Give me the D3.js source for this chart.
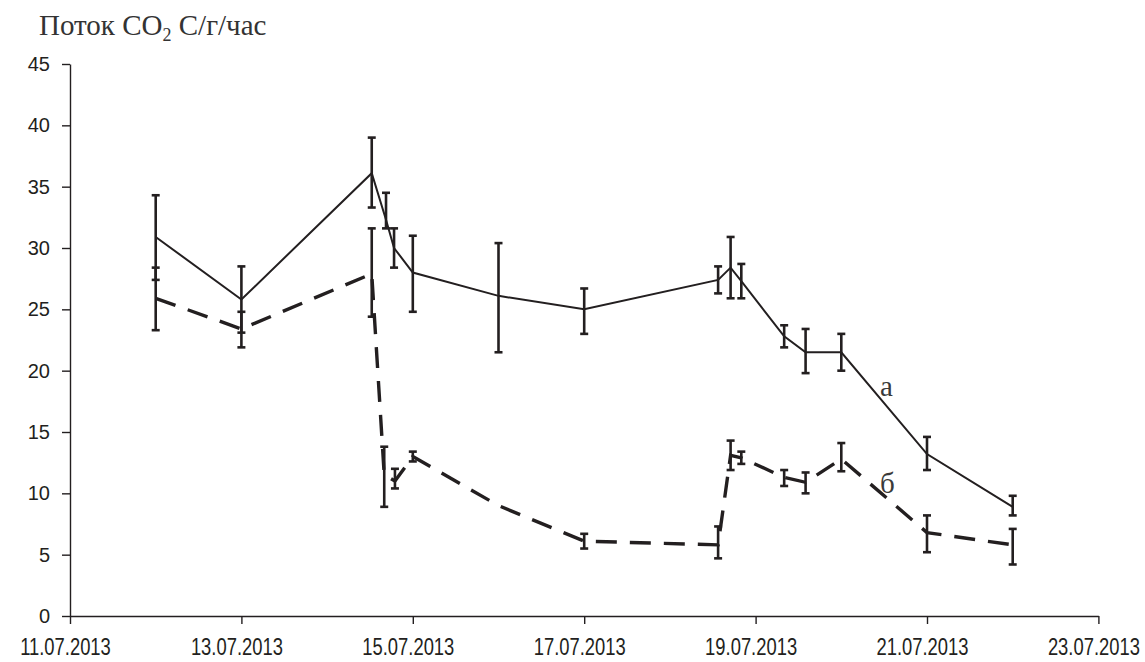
<!DOCTYPE html>
<html>
<head>
<meta charset="utf-8">
<script src="https://cdn.jsdelivr.net/npm/d3@7"></script>
<style>
  html, body { margin: 0; padding: 0; background: #ffffff; }
  svg { display: block; }
</style>
</head>
<body>
<svg id="chart" width="1145" height="662"></svg>
<script>
// ---- data ----
const timesA = ["12.07.2013 00:00","13.07.2013 00:00","14.07.2013 12:30","14.07.2013 16:30","14.07.2013 18:45","15.07.2013 00:00","16.07.2013 00:00","17.07.2013 00:00","18.07.2013 13:30","18.07.2013 17:00","18.07.2013 20:00","19.07.2013 08:00","19.07.2013 14:00","20.07.2013 00:00","21.07.2013 00:00","22.07.2013 00:00"];
const valuesA = [30.9, 25.8, 36.1, 32.3, 30.0, 28.0, 26.1, 25.0, 27.4, 28.4, 27.3, 22.8, 21.5, 21.5, 13.2, 8.9];
const highA   = [34.3, 28.5, 39.0, 34.5, 31.6, 31.0, 30.4, 26.7, 28.5, 30.9, 28.7, 23.7, 23.4, 23.0, 14.6, 9.8];
const lowA    = [27.4, 23.1, 33.3, 31.6, 28.4, 24.8, 21.5, 23.0, 26.3, 25.9, 25.9, 21.9, 19.8, 20.0, 11.9, 8.2];

const timesB = ["12.07.2013 00:00","13.07.2013 00:00","14.07.2013 12:30","14.07.2013 16:00","14.07.2013 19:00","15.07.2013 00:00","16.07.2013 00:00","17.07.2013 00:00","18.07.2013 13:30","18.07.2013 17:00","18.07.2013 20:00","19.07.2013 08:00","19.07.2013 14:00","20.07.2013 00:00","21.07.2013 00:00","22.07.2013 00:00"];
const valuesB = [25.9, 23.4, 27.9, 11.5, 11.0, 13.0, 9.0, 6.1, 5.8, 13.1, 12.9, 11.3, 10.9, 12.8, 6.8, 5.8];
const highB   = [28.4, 24.8, 31.6, 13.8, 12.0, 13.4, 9.0, 6.7, 7.3, 14.3, 13.4, 11.9, 11.7, 14.1, 8.2, 7.1];
const lowB    = [23.3, 21.9, 24.4, 8.9, 10.4, 12.6, 9.0, 5.5, 4.7, 11.9, 12.4, 10.6, 10.0, 11.8, 5.2, 4.2];

const xTickLabels = ["11.07.2013","13.07.2013","15.07.2013","17.07.2013","19.07.2013","21.07.2013","23.07.2013"];
const yTicks = [0, 5, 10, 15, 20, 25, 30, 35, 40, 45];
const seriesLabels = ["а", "б"];
const titleParts = ["Поток CO", "2", " С/г/час"];

// ---- chart ----
const ink = "#231f20";
const parseT = d3.timeParse("%d.%m.%Y %H:%M");
const parseD = d3.timeParse("%d.%m.%Y");
const svg = d3.select("#chart");

const x = d3.scaleTime()
  .domain([parseD(xTickLabels[0]), parseD(xTickLabels[xTickLabels.length - 1])])
  .range([70, 1098.4]);
const y = d3.scaleLinear().domain([0, 45]).range([616, 64]);

// axes
const gx = svg.append("g").attr("transform", "translate(0,616)")
  .call(d3.axisBottom(x).tickValues(xTickLabels.map(parseD))
    .tickFormat(d3.timeFormat("%d.%m.%Y")).tickSize(8).tickSizeOuter(0).tickPadding(15));
const gy = svg.append("g").attr("transform", "translate(70,0)")
  .call(d3.axisLeft(y).tickValues(yTicks).tickSize(8).tickSizeOuter(0).tickPadding(12));
[gx, gy].forEach(g => {
  g.select(".domain").attr("stroke", ink).attr("stroke-width", 1.4);
  g.selectAll(".tick line").attr("stroke", ink).attr("stroke-width", 1.4);
  g.selectAll(".tick text").attr("fill", ink)
    .style("font-family", "'Liberation Sans', Arial, sans-serif").style("font-size", "20px");
});
// x labels: taller, narrow lettering as in the reference
gx.selectAll(".tick text")
  .style("font-size", "23px")
  .attr("transform", "translate(-5,0) scale(0.8,1)");

function build(times, vals, hi, lo) {
  return times.map((t, i) => ({ t: parseT(t), v: vals[i], hi: hi[i], lo: lo[i] }));
}
const dataA = build(timesA, valuesA, highA, lowA);
const dataB = build(timesB, valuesB, highB, lowB);

const line = d3.line().x(d => x(d.t)).y(d => y(d.v));

function errorBars(data, cls) {
  const g = svg.append("g").attr("class", cls)
    .attr("stroke", ink).attr("stroke-width", 2.6).attr("fill", "none");
  const withBars = data.filter(d => d.hi > d.lo);
  g.selectAll("line.v").data(withBars).join("line")
    .attr("x1", d => x(d.t)).attr("x2", d => x(d.t))
    .attr("y1", d => y(d.hi)).attr("y2", d => y(d.lo));
  g.selectAll("line.top").data(withBars).join("line")
    .attr("x1", d => x(d.t) - 4).attr("x2", d => x(d.t) + 4)
    .attr("y1", d => y(d.hi)).attr("y2", d => y(d.hi));
  g.selectAll("line.bot").data(withBars).join("line")
    .attr("x1", d => x(d.t) - 4).attr("x2", d => x(d.t) + 4)
    .attr("y1", d => y(d.lo)).attr("y2", d => y(d.lo));
}

svg.append("path").datum(dataB).attr("d", line)
  .attr("fill", "none").attr("stroke", ink).attr("stroke-width", 3.4)
  .attr("stroke-dasharray", "21 13");
svg.append("path").datum(dataA).attr("d", line)
  .attr("fill", "none").attr("stroke", ink).attr("stroke-width", 2);
errorBars(dataB, "err-b");
errorBars(dataA, "err-a");

// series labels
const serif = "'Liberation Serif', 'Times New Roman', serif";
svg.append("text").attr("x", 880).attr("y", 396).text(seriesLabels[0])
  .attr("fill", "#3a3a3a").style("font-family", serif).style("font-size", "29px");
svg.append("text").attr("x", 880).attr("y", 493).text(seriesLabels[1])
  .attr("fill", "#3a3a3a").style("font-family", serif).style("font-size", "29px");

// title
const title = svg.append("text").attr("x", 39).attr("y", 35)
  .attr("fill", "#333333").style("font-family", serif).style("font-size", "29px");
title.append("tspan").text(titleParts[0]);
title.append("tspan").attr("dy", 6).style("font-size", "18px").text(titleParts[1]);
title.append("tspan").attr("dy", -6).text(titleParts[2]);
</script>
</body>
</html>
